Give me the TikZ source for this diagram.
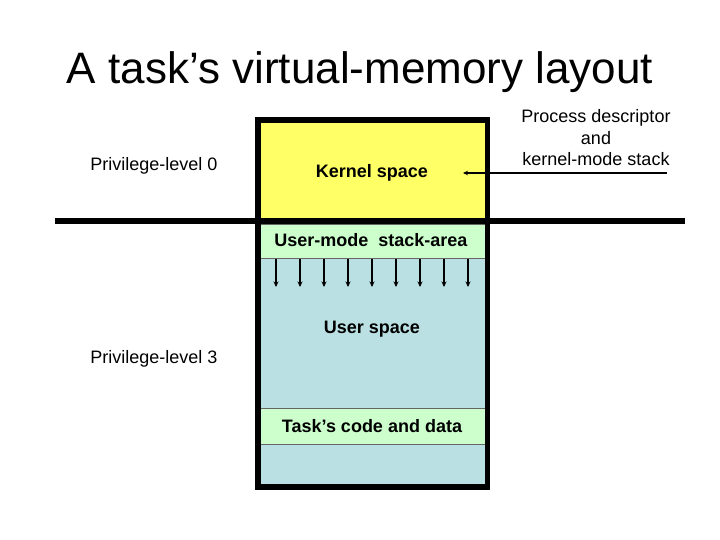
\documentclass[tikz,border=0pt]{standalone}
\usepackage{fontspec}
\setmainfont{Liberation Sans}
\usetikzlibrary{arrows.meta}
\definecolor{kyellow}{RGB}{255,255,102}
\definecolor{ugreen}{RGB}{204,255,204}
\definecolor{ublue}{RGB}{187,224,227}
\begin{document}
\begin{tikzpicture}[x=1pt,y=-1pt,
  lbl/.style={font=\fontsize{18}{21.5}\selectfont, inner sep=0pt, anchor=base},
  blbl/.style={font=\fontsize{18}{21.5}\selectfont\bfseries, inner sep=0pt, anchor=base},
  band/.style={draw=black!60, line width=0.6pt, fill=ugreen},
  smallarr/.style={line width=1.3pt, -{Stealth[length=5.5pt,width=5pt]}},
  ptrarr/.style={line width=1.3pt, -{Stealth[length=5pt,width=4.5pt]}}]
\useasboundingbox (0,0) rectangle (720,540);
% regions
\fill[kyellow] (258,120) rectangle (487,221);
\fill[ublue] (258,221) rectangle (487,487);
\filldraw[band] (259,224) rectangle (486,258);
\filldraw[band] (258,408) rectangle (485,444);
% stack growth arrows
\foreach \i in {0,...,8} {
  \coordinate (sa\i) at ({276+24*\i},259);
  \coordinate (sb\i) at ({276+24*\i},287);
  \draw[smallarr] (sa\i) -- (sb\i);
}
% outer box and privilege boundary
\draw[line width=5.5pt] (257.75,120) rectangle (487.25,487);
\draw[line width=6pt] (55,221) -- (685,221);
% texts
\node[anchor=base, inner sep=0pt, font=\fontsize{44}{50}\selectfont] (title) at (360,84) {A task’s virtual-memory layout};
\node[lbl] (pl0) at (154,171) {Privilege-level 0};
\node[lbl] (pl3) at (154,363) {Privilege-level 3};
\node[blbl] (kernel) at (372,177.5) {Kernel space};
\node[blbl] (stack) at (371,246.7) {User-mode\ \ stack-area};
\node[blbl] (user) at (372,333) {User space};
\node[blbl] (code) at (372,432.3) {Task’s code and data};
\node[lbl, align=center] (pd) at (596,166) {Process descriptor\\and\\kernel-mode stack};
% pointer arrow
\coordinate (pdstart) at (667,173);
\coordinate (kend) at (463,173);
\draw[ptrarr] (pdstart) -- (kend);
\end{tikzpicture}
\end{document}
